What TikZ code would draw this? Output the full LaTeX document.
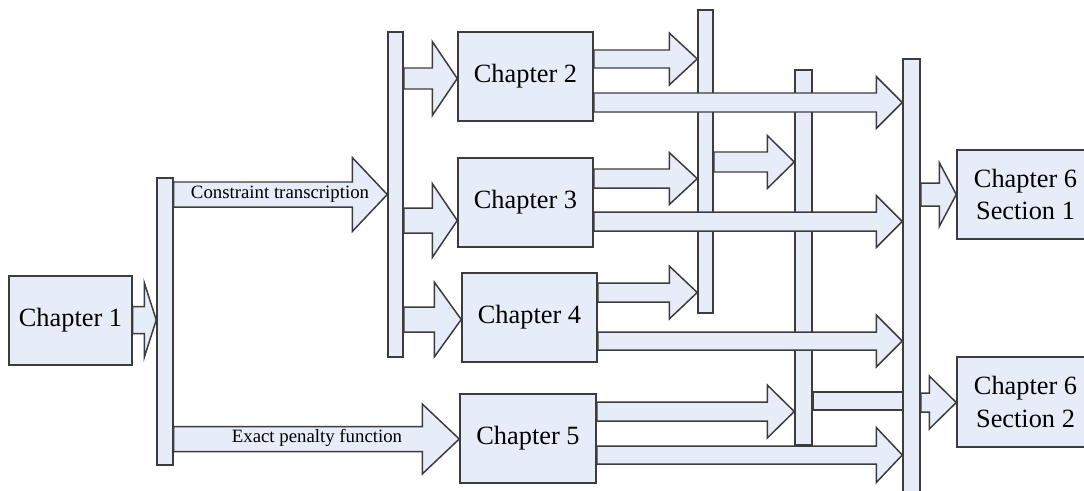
\documentclass[tikz,border=0pt]{standalone}
\usepackage{fontspec}
\setmainfont{Liberation Serif}
\newfontfamily\chapserif{Liberation Serif}
\usetikzlibrary{calc,fit}
\definecolor{fillc}{HTML}{E6ECF8}
\definecolor{linec}{HTML}{3C3C3C}
\tikzset{
  blk/.style={draw=linec, fill=fillc, line width=0.85pt, line join=miter},
  chap/.style={blk, inner sep=0pt},
  chaptext/.style={font=\chapserif\fontsize{15}{18.5}\selectfont, align=center, inner sep=0pt},
  barnode/.style={blk, inner sep=0pt},
  lbl/.style={font=\chapserif\fontsize{10.7}{12}\selectfont, inner sep=0pt},
}
% from, to, y, shaft half-width, head half-width, head length
\newcommand\barrow[6]{%
  \coordinate (s) at (#1 |- 0,#3);
  \coordinate (t) at (#2 |- 0,#3);
  \draw[blk] ($(s)+(0,-#4)$) -- ($(t)+(-#6,-#4)$) -- ($(t)+(-#6,-#5)$) -- (t)
    -- ($(t)+(-#6,#5)$) -- ($(t)+(-#6,#4)$) -- ($(s)+(0,#4)$) -- cycle;
}
\begin{document}
\begin{tikzpicture}[x=0.02cm, y=-0.02cm]
\useasboundingbox (0,0) rectangle (1084,490);
\clip (0,0) rectangle (1084,490);
% bars
\node[barnode, fit={(157,178) (173,465)}] (bar1) {};
\node[barnode, fit={(388,32) (403,357)}] (bar2) {};
\node[barnode, fit={(698,10) (713,313)}] (bar3) {};
\node[barnode, fit={(795,70) (812,445)}] (bar4) {};
\node[barnode, fit={(903,59) (920,500)}] (bar5) {};
% chapter boxes
\node[chap, fit={(9,276) (132,365)}] (ch1) {};
\node[chaptext] (t1) at (ch1) {Chapter 1};
\node[chap, fit={(458,32) (593,121)}] (ch2) {};
\node[chaptext] (t2) at (ch2) {Chapter 2};
\node[chap, fit={(458,158) (593,247)}] (ch3) {};
\node[chaptext] (t3) at (ch3) {Chapter 3};
\node[chap, fit={(462,273) (597,362)}] (ch4) {};
\node[chaptext] (t4) at (ch4) {Chapter 4};
\node[chap, fit={(460,394) (596,483)}] (ch5) {};
\node[chaptext] (t5) at (ch5) {Chapter 5};
\node[chap, fit={(957,150) (1094,239)}] (ch6a) {};
\node[chaptext] (t6a) at (ch6a) {Chapter 6\\Section 1};
\node[chap, fit={(957,357) (1094,447)}] (ch6b) {};
\node[chaptext] (t6b) at (ch6b) {Chapter 6\\Section 2};
% block arrows
\barrow{ch1.east}{bar1.west}{320}{13.5}{37.5}{12}
\barrow{bar1.east}{bar2.west}{194.5}{12.5}{37}{35}
\barrow{bar1.east}{ch5.west}{439}{12.5}{35}{37}
\barrow{bar2.east}{ch2.west}{78.5}{10.5}{37}{25}
\barrow{bar2.east}{ch3.west}{220.5}{12.5}{37}{25}
\barrow{bar2.east}{ch4.west}{319.5}{12.5}{37.5}{27}
\barrow{ch2.east}{bar3.west}{59}{9}{26}{28}
\barrow{ch2.east}{bar5.west}{102.5}{9.5}{26}{26}
\barrow{ch3.east}{bar3.west}{178.5}{9.5}{26}{28}
\barrow{ch3.east}{bar5.west}{221.5}{9.5}{26}{26}
\barrow{bar3.east}{bar4.west}{162}{10}{26.5}{27}
\barrow{ch4.east}{bar3.west}{292.5}{9.5}{26.5}{28}
\barrow{ch4.east}{bar5.west}{341}{9}{26}{26}
\barrow{ch5.east}{bar4.west}{411.5}{9.5}{26.5}{27}
\barrow{ch5.east}{bar5.west}{455}{9}{27.5}{26}
\barrow{bar5.east}{ch6a.west}{194.5}{11.5}{32}{17}
\barrow{bar5.east}{ch6b.west}{402.5}{9.5}{26.5}{27}
% plain link bar4 -> bar5
\draw[blk] (bar4.east |- 0,392) rectangle (bar5.west |- 0,410);
% labels
\node[lbl] (lct) at (280,194) {Constraint transcription};
\node[lbl] (lep) at (317,438) {Exact penalty function};
\end{tikzpicture}
\end{document}
